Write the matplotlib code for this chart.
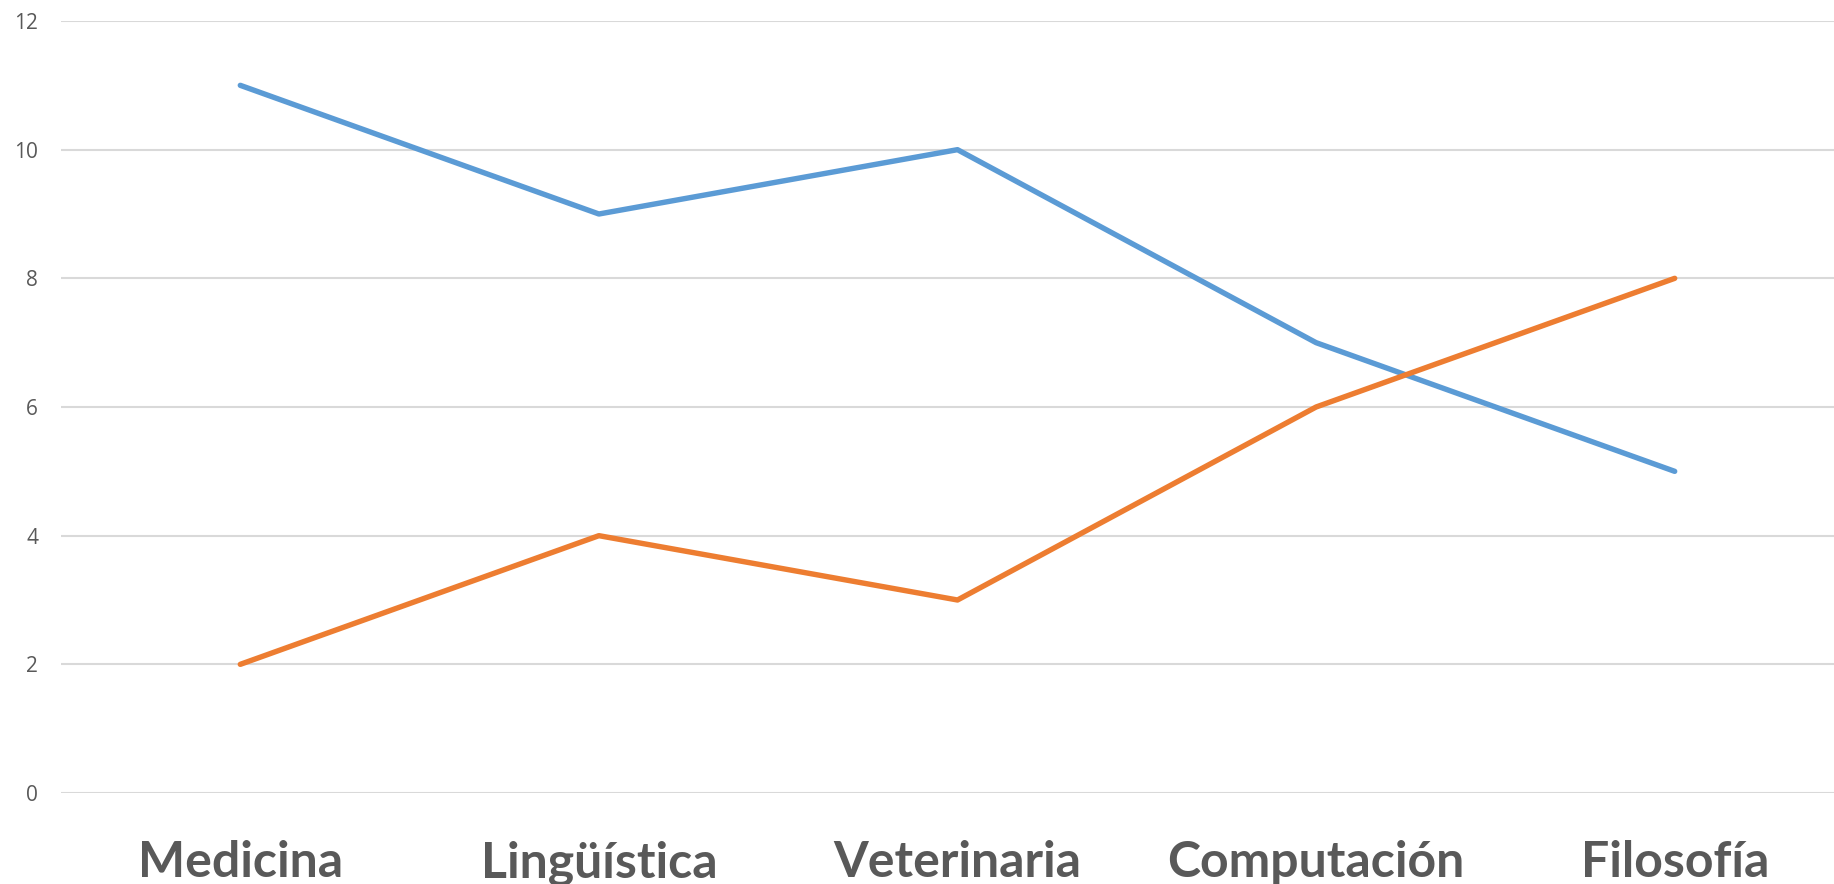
import matplotlib.pyplot as plt

categorias = ["Medicina", "Lingüística", "Veterinaria", "Computación", "Filosofía"]
serie_azul = [11, 9, 10, 7, 5]
serie_naranja = [2, 4, 3, 6, 8]
yticks = [0, 2, 4, 6, 8, 10, 12]

W, H = 1834, 884
fig = plt.figure(figsize=(W / 100, H / 100), dpi=100)
# the plot area runs a bit past the right edge of the picture
ax = fig.add_axes([61 / W, (H - 793) / H, (1854 - 61) / W, (793 - 21) / H])

x = list(range(len(categorias)))
ax.plot(x, serie_azul, color="#5B9BD5", lw=3.9, solid_capstyle="round", zorder=3)
ax.plot(x, serie_naranja, color="#ED7D31", lw=3.9, solid_capstyle="round", zorder=3)

ax.set_xlim(-0.5, len(categorias) - 0.5)
ax.set_ylim(0, 12)
ax.set_yticks(yticks)
ax.yaxis.grid(True, color="#D9D9D9", lw=1.5)
ax.set_axisbelow(True)
for s in ax.spines.values():
    s.set_visible(False)

ax.set_xticks(x)
ax.set_xticklabels(categorias, fontsize=36, fontweight="bold", color="#595959",
                   family=["Lato", "DejaVu Sans"])
for lbl in ax.get_xticklabels():
    lbl.set_verticalalignment("baseline")
ax.tick_params(axis="x", length=0, pad=60.5)
ax.tick_params(axis="y", length=0, pad=16.5, labelsize=15, labelcolor="#595959")
for lbl in ax.get_yticklabels():
    lbl.set_family(["Open Sans", "DejaVu Sans"])

fig.savefig("out.png", dpi=100)
